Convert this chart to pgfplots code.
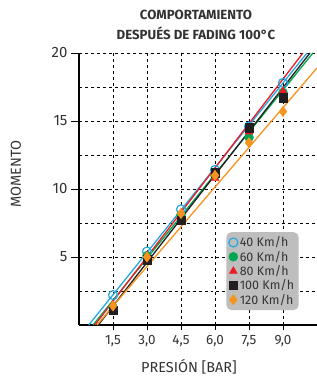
\documentclass[border=0pt]{standalone}
\usepackage{fontspec}
\setmainfont{Fira Sans}
\usepackage{pgfplots}
\pgfplotsset{compat=1.18}
\definecolor{ccyan}{RGB}{35,168,224}
\definecolor{cgreen}{RGB}{0,166,81}
\definecolor{cred}{RGB}{237,28,36}
\definecolor{cblack}{RGB}{35,31,32}
\definecolor{corange}{RGB}{247,148,29}
\definecolor{ctext}{RGB}{51,51,51}
\definecolor{clegend}{RGB}{190,190,190}
\begin{document}
\begin{tikzpicture}
\path[use as bounding box] (-79bp,-56bp) rectangle (238bp,325bp);
\begin{axis}[
  scale only axis, width=238bp, height=272bp,
  at={(0,0)}, anchor=south west,
  xmin=0, xmax=10.5, ymin=0, ymax=20,
  axis x line=bottom, axis y line=left,
  axis line style={line width=2.2bp, black, -},
  xtick={1.5,3,4.5,6,7.5,9},
  ytick={5,10,15,20},
  minor ytick={2.5,7.5,12.5,17.5},
  grid=both,
  major grid style={dashed, black, line width=0.6bp},
  minor grid style={dashed, black, line width=0.6bp},
  major tick length=8bp,
  x tick style={black, line width=0.5bp, yshift=3bp},
  y tick style={black, line width=0.8bp},
  minor tick length=0pt,
  tick align=outside,
  /pgf/number format/assume math mode=true,
  xticklabel style={font=\fontsize{13.5}{15}\selectfont, text=ctext, yshift=1bp,
    /pgf/number format/use comma, /pgf/number format/fixed, /pgf/number format/fixed zerofill, /pgf/number format/precision=1},
  yticklabel style={font=\fontsize{15}{17}\selectfont, text=ctext},
  legend style={fill=clegend, draw=none, rounded corners=5bp, at={(0.924,0.342)}, anchor=north east,
    font=\fontsize{12.5}{13}\selectfont, text=ctext, row sep=-1.2bp, inner sep=2.5bp},
  legend cell align=left,
]
\addplot[ccyan, line width=1.3bp, forget plot] coordinates {(0.43,0) (10.06,20)};
\addplot[cgreen, line width=1.3bp, forget plot] coordinates {(0.62,0) (10.32,20)};
\addplot[cred, line width=1.3bp, forget plot] coordinates {(0.70,0) (9.88,20)};
\addplot[cblack, line width=1.3bp, forget plot] coordinates {(0.85,0) (10.19,20)};
\addplot[corange, line width=1.3bp, forget plot] coordinates {(0.79,0) (10.5,18.9)};

\addplot[only marks, mark=o, mark size=4.5bp, ccyan, line width=1.2bp] coordinates {(1.5,2.2) (3,5.4) (4.5,8.5) (6,11.4) (7.5,14.6) (9,17.8)};
\addlegendentry{40 Km/h}
\addplot[only marks, mark=*, mark size=4.5bp, cgreen] coordinates {(1.5,1.3) (3,5.1) (4.5,8.1) (6,11.0) (7.5,13.8) (9,17.1)};
\addlegendentry{60 Km/h}
\addplot[only marks, mark=triangle*, mark size=4.5bp, cred] coordinates {(1.5,1.5) (3,5.1) (4.5,8.0) (6,10.8) (7.5,14.2) (9,17.2)};
\addlegendentry{80 Km/h}
\addplot[only marks, mark=square*, mark size=4.2bp, cblack] coordinates {(1.5,1.1) (3,4.8) (4.5,7.7) (6,11.2) (7.5,14.5) (9,16.7)};
\addlegendentry{100 Km/h}
\addplot[only marks, mark=diamond*, mark size=5.2bp, corange] coordinates {(1.5,1.4) (3,5.0) (4.5,8.2) (6,11.0) (7.5,13.4) (9,15.7)};
\addlegendentry{120 Km/h}
\end{axis}
\node[font=\bfseries\fontsize{13.3}{19.5}\selectfont, text=ctext, align=center] at (117bp,300bp) {COMPORTAMIENTO\\DESPUÉS DE FADING 100°C};
\node[font=\fontsize{14.5}{16}\selectfont, text=ctext, rotate=90] at (-63bp,151bp) {MOMENTO};
\node[font=\fontsize{14.5}{16}\selectfont, text=ctext] at (110bp,-42bp) {PRESIÓN [BAR]};
\end{tikzpicture}
\end{document}
